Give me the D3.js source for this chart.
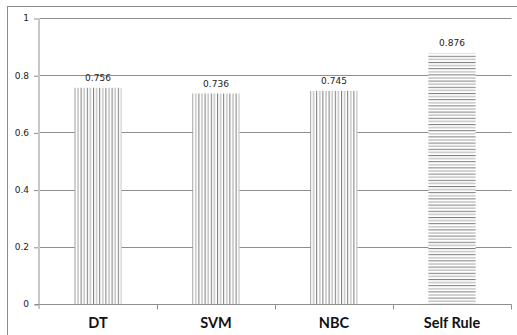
<!DOCTYPE html>
<html>
<head>
<meta charset="utf-8">
<script src="https://cdn.jsdelivr.net/npm/d3@7"></script>
<style>
  html, body { margin: 0; padding: 0; background: #fff; }
  svg { display: block; }
</style>
</head>
<body>
<svg id="chart" width="517" height="335"></svg>
<script>
// Classifier accuracy comparison
const categories = ["DT", "SVM", "NBC", "Self Rule"];
const accuracy = [0.756, 0.736, 0.745, 0.876];
const hatch = ["vertical", "vertical", "vertical", "horizontal"];
const yTicks = [0, 0.2, 0.4, 0.6, 0.8, 1];

const svg = d3.select("#chart");
const W = 517, H = 335;
const m = { left: 39, right: 6, top: 18, bottom: 31 };

// Outer frame
svg.append("rect")
  .attr("x", 7.5).attr("y", 6.5)
  .attr("width", W + 10).attr("height", H + 10)
  .attr("fill", "#fff").attr("stroke", "#8c8c8c").attr("stroke-width", 1);

// Hatch patterns
const defs = svg.append("defs");
const vp = defs.append("pattern")
  .attr("id", "hatch-vertical").attr("patternUnits", "userSpaceOnUse")
  .attr("width", 6.2).attr("height", 10);
vp.append("rect").attr("width", 6.2).attr("height", 10).attr("fill", "#fff");
vp.append("line").attr("x1", 0.5).attr("x2", 0.5).attr("y1", 0).attr("y2", 10)
  .attr("stroke", "#7a7a7a").attr("stroke-width", 1);
vp.append("line").attr("x1", 3.6).attr("x2", 3.6).attr("y1", 0).attr("y2", 10)
  .attr("stroke", "#a8a8a8").attr("stroke-width", 1);

const hp = defs.append("pattern")
  .attr("id", "hatch-horizontal").attr("patternUnits", "userSpaceOnUse")
  .attr("width", 10).attr("height", 6.2);
hp.append("rect").attr("width", 10).attr("height", 6.2).attr("fill", "#fff");
hp.append("line").attr("y1", 0.5).attr("y2", 0.5).attr("x1", 0).attr("x2", 10)
  .attr("stroke", "#7a7a7a").attr("stroke-width", 1);
hp.append("line").attr("y1", 3.6).attr("y2", 3.6).attr("x1", 0).attr("x2", 10)
  .attr("stroke", "#a8a8a8").attr("stroke-width", 1);

const x = d3.scaleBand().domain(categories)
  .range([m.left, W - m.right]).paddingInner(0).paddingOuter(0);
const y = d3.scaleLinear().domain([0, 1]).range([H - m.bottom, m.top]);

// Horizontal gridlines
svg.append("g").selectAll("line").data(yTicks.filter(d => d > 0)).join("line")
  .attr("x1", m.left).attr("x2", W - m.right + 0.5)
  .attr("y1", d => Math.round(y(d)) + 0.5).attr("y2", d => Math.round(y(d)) + 0.5)
  .attr("stroke", "#8e8e8e").attr("stroke-width", 1);

// Y axis
const yAxis = svg.append("g")
  .attr("transform", `translate(${m.left},0)`)
  .call(d3.axisLeft(y).tickValues(yTicks).tickFormat(d3.format("~g")).tickSize(5).tickPadding(5));
yAxis.select(".domain").remove();
yAxis.selectAll(".tick line").attr("stroke", "#8e8e8e")
  .attr("transform", "translate(0,0.5)");
yAxis.selectAll(".tick text")
  .attr("font-family", "DejaVu Sans").attr("font-size", 9).attr("fill", "#222");
svg.append("line")
  .attr("x1", m.left).attr("x2", m.left)
  .attr("y1", m.top).attr("y2", y(0) + 5)
  .attr("stroke", "#c8c8c8").attr("stroke-width", 2);

// Bars
const bw = x.bandwidth() * 0.4;
svg.append("g").selectAll("rect").data(categories).join("rect")
  .attr("x", d => x(d) + x.bandwidth() / 2 - bw / 2)
  .attr("y", (d, i) => y(accuracy[i]))
  .attr("width", bw)
  .attr("height", (d, i) => y(0) - y(accuracy[i]))
  .attr("fill", (d, i) => `url(#hatch-${hatch[i]})`);

// Value labels
svg.append("g").selectAll("text").data(categories).join("text")
  .attr("x", d => x(d) + x.bandwidth() / 2)
  .attr("y", (d, i) => y(accuracy[i]) - 7)
  .attr("text-anchor", "middle")
  .attr("font-family", "DejaVu Sans").attr("font-size", 9).attr("fill", "#222")
  .text((d, i) => d3.format(".3f")(accuracy[i]));

// X axis
const xAxisY = Math.round(y(0)) + 0.5;
svg.append("line")
  .attr("x1", m.left - 4).attr("x2", W - m.right + 0.5)
  .attr("y1", xAxisY).attr("y2", xAxisY)
  .attr("stroke", "#8e8e8e").attr("stroke-width", 1);
const bounds = categories.map(c => x(c)).concat([x.range()[1]]);
svg.append("g").selectAll("line").data(bounds.slice(1)).join("line")
  .attr("x1", d => Math.round(d) + 0.5).attr("x2", d => Math.round(d) + 0.5)
  .attr("y1", xAxisY).attr("y2", xAxisY + 5)
  .attr("stroke", "#8e8e8e").attr("stroke-width", 1);

svg.append("g").selectAll("text").data(categories).join("text")
  .attr("x", d => x(d) + x.bandwidth() / 2)
  .attr("y", H - 7)
  .attr("text-anchor", "middle")
  .attr("font-family", "Lato").attr("font-weight", "bold").attr("font-size", 14.5)
  .attr("fill", "#111")
  .text(d => d);
</script>
</body>
</html>
